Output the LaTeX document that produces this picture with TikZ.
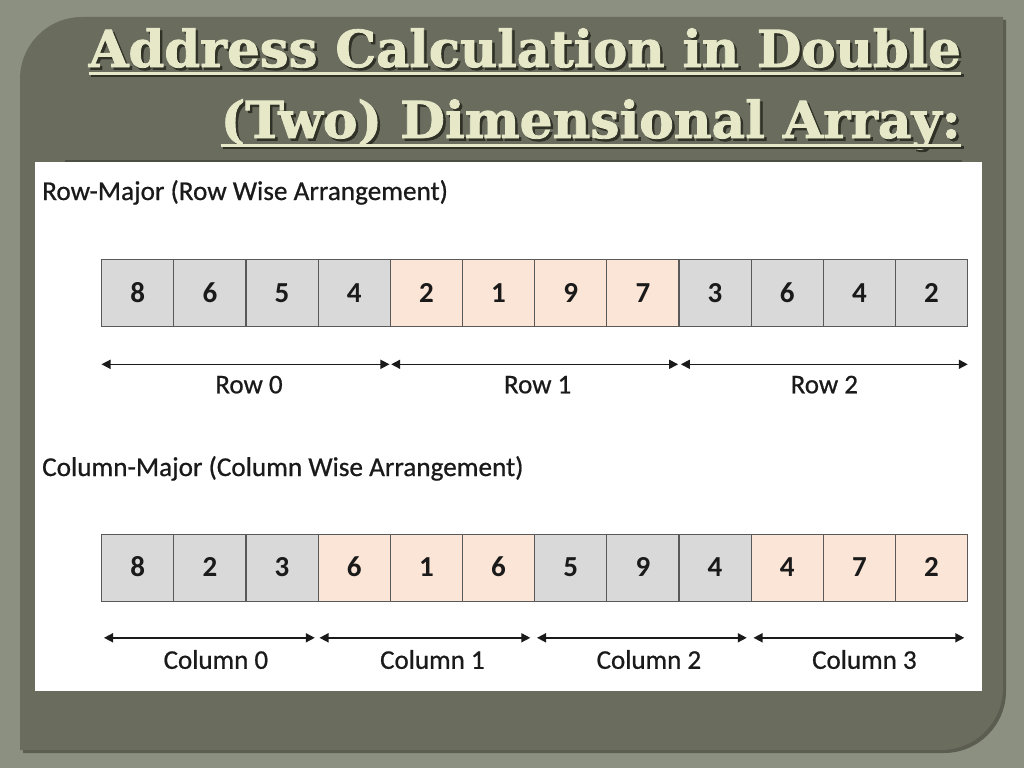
\documentclass[tikz,border=0pt]{standalone}
\usepackage{fontspec}
\usepackage{graphicx}
\setmainfont{Carlito}
\newfontfamily\semibold[FakeBold=0.7]{Carlito}
\newfontfamily\titlefont[FakeBold=1.6]{DejaVu Serif}
\usetikzlibrary{arrows.meta,calc}

\definecolor{bgc}{HTML}{8C9080}
\definecolor{panelc}{HTML}{6A6D5E}
\definecolor{paneledge}{HTML}{5A5D4F}
\definecolor{titlec}{HTML}{E6E8C8}
\definecolor{shadowc}{HTML}{303228}
\definecolor{sepc}{HTML}{4B4E42}
\definecolor{cellg}{HTML}{D9D9D9}
\definecolor{cellp}{HTML}{FBE5D6}
\definecolor{cellb}{HTML}{595959}
\definecolor{inkc}{HTML}{1A1A1A}

% title text with a dark drop shadow, in one box
\newcommand{\shadowtitle}[1]{\makebox[0pt][l]{\hspace{2.5pt}\raisebox{-2.5pt}{\color{shadowc}#1}}#1}

\begin{document}
\begin{tikzpicture}[x=1pt,y=-1pt,
  cellbox/.style={draw=cellb, line width=1.3pt, minimum width=72.1667pt, minimum height=67pt,
    inner sep=0pt, text height=18.5pt, text depth=0pt, anchor=north west, text=inkc,
    font=\fontsize{29}{29}\selectfont\bfseries},
  greycell/.style={cellbox, fill=cellg},
  peachcell/.style={cellbox, fill=cellp},
  spanarrow/.style={{Triangle[length=9pt,width=9pt]}-{Triangle[length=9pt,width=9pt]},
    line width=1.6pt, draw=inkc},
  spanlabel/.style={anchor=base, inner sep=0pt, text=inkc, font=\semibold\fontsize{27}{27}\selectfont},
  heading/.style={anchor=base west, inner sep=0pt, text=inkc, font=\semibold\fontsize{27.2}{27.2}\selectfont},
  ttl/.style={anchor=base east, inner sep=0pt, text=titlec, font=\titlefont\bfseries\fontsize{51}{51}\selectfont},
  ul/.style={draw=titlec, line width=3pt},
  ulshadow/.style={draw=shadowc, line width=3pt}
]
% background
\fill[bgc] (0,0) rectangle (1024,768);
% panel shadow and panel
\fill[paneledge] (23,82) arc[start angle=180,end angle=270,radius=62] -- (1006,20) -- (1006,691)
  arc[start angle=0,end angle=90,radius=62] -- (23,753) -- cycle;
\fill[panelc] (20,79) arc[start angle=180,end angle=270,radius=62] -- (1003,17) -- (1003,688)
  arc[start angle=0,end angle=90,radius=62] -- (20,750) -- cycle;

% title
\node[ttl] (t1) at (961,67) {\resizebox{872pt}{\height}{\shadowtitle{Address Calculation in Double}}};
\node[ttl] (t2) at (961,138) {\resizebox{740pt}{\height}{\shadowtitle{(Two) Dimensional Array:}}};
\draw[ulshadow] ([shift={(2.5pt,-8.5pt)}]t1.base west) -- ([shift={(2.5pt,-8.5pt)}]t1.base east);
\draw[ulshadow] ([shift={(2.5pt,-9.5pt)}]t2.base west) -- ([shift={(2.5pt,-9.5pt)}]t2.base east);
\draw[ul] ([yshift=-6pt]t1.base west) -- ([yshift=-6pt]t1.base east);
\draw[ul] ([yshift=-7pt]t2.base west) -- ([yshift=-7pt]t2.base east);

% content area
\fill[white] (35,162) rectangle (982,691);
\draw[sepc, line width=1.4pt] (65,161) -- (962,161);

% row-major
\node[heading] (h1) at (42,200) {Row-Major (Row Wise Arrangement)};
\foreach \v/\s [count=\i] in {8/greycell,6/greycell,5/greycell,4/greycell,2/peachcell,1/peachcell,9/peachcell,7/peachcell,3/greycell,6/greycell,4/greycell,2/greycell}
  \node[\s] (r\i) at ({101+(\i-1)*72.1667},259) {\v};

\draw[spanarrow, shorten <=0.5pt, shorten >=1.5pt] ([yshift=-37pt]r1.south west) -- ([yshift=-37pt]r4.south east);
\draw[spanarrow, shorten <=1.5pt, shorten >=1.5pt] ([yshift=-37pt]r5.south west) -- ([yshift=-37pt]r8.south east);
\draw[spanarrow, shorten <=2.5pt, shorten >=0.5pt] ([yshift=-37pt]r9.south west) -- ([yshift=-37pt]r12.south east);
\node[spanlabel] (rl0) at ($(r1.south west)!0.5!(r4.south east)+(3,66)$) {Row 0};
\node[spanlabel] (rl1) at ($(r5.south west)!0.5!(r8.south east)+(3,66)$) {Row 1};
\node[spanlabel] (rl2) at ($(r9.south west)!0.5!(r12.south east)+(1,66)$) {Row 2};

% column-major
\node[heading] (h2) at (42,476) {Column-Major (Column Wise Arrangement)};
\foreach \v/\s [count=\i] in {8/greycell,2/greycell,3/greycell,6/peachcell,1/peachcell,6/peachcell,5/greycell,9/greycell,4/greycell,4/peachcell,7/peachcell,2/peachcell}
  \node[\s] (c\i) at ({101+(\i-1)*72.1667},533.5) {\v};

\draw[spanarrow, shorten <=3pt, shorten >=4pt] ([yshift=-36pt]c1.south west) -- ([yshift=-36pt]c3.south east);
\draw[spanarrow, shorten <=2pt, shorten >=5pt] ([yshift=-36pt]c4.south west) -- ([yshift=-36pt]c6.south east);
\draw[spanarrow, shorten <=3pt, shorten >=5pt] ([yshift=-36pt]c7.south west) -- ([yshift=-36pt]c9.south east);
\draw[spanarrow, shorten <=3pt, shorten >=4pt] ([yshift=-36pt]c10.south west) -- ([yshift=-36pt]c12.south east);
\node[spanlabel] (cl0) at ($(c1.south west)!0.5!(c3.south east)+(6,67)$) {Column 0};
\node[spanlabel] (cl1) at ($(c4.south west)!0.5!(c6.south east)+(6,67)$) {Column 1};
\node[spanlabel] (cl2) at ($(c7.south west)!0.5!(c9.south east)+(6,67)$) {Column 2};
\node[spanlabel] (cl3) at ($(c10.south west)!0.5!(c12.south east)+(5,67)$) {Column 3};
\end{tikzpicture}
\end{document}
